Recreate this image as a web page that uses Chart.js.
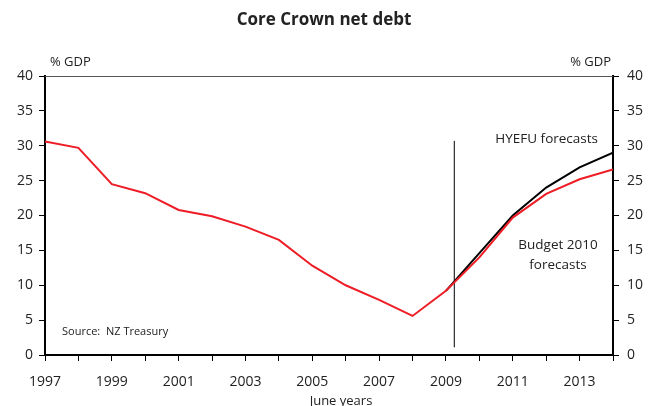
<!DOCTYPE html>
<html>
<head>
<meta charset="utf-8">
<script src="https://cdn.jsdelivr.net/npm/chart.js@4"></script>
<style>
html,body{margin:0;padding:0;background:#fff;}
#wrap{width:650px;height:406px;position:relative;}
</style>
</head>
<body>
<div id="wrap"><canvas id="c" width="650" height="406"></canvas></div>
<script>
const years = [1997,1998,1999,2000,2001,2002,2003,2004,2005,2006,2007,2008,2009,2010,2011,2012,2013,2014];
const budget2010 = [30.6,29.7,24.5,23.2,20.8,19.9,18.4,16.5,12.8,10.0,7.9,5.6,9.2,14.0,19.7,23.1,25.2,26.6];
const hyefuYears = [2009,2010,2011,2012,2013,2014];
const hyefu = [9.2,14.6,20.0,24.0,26.9,29.0];
const forecastMarkerX = [2009.25,2009.25];
const forecastMarkerY = [1.1,30.7];
const yTicks = [0,5,10,15,20,25,30,35,40];
const xLabelYears = [1997,1999,2001,2003,2005,2007,2009,2011,2013];

const FONT = "'Open Sans','Noto Sans',sans-serif";
const TXT = '#222';

const textPlugin = {
  id:'texts',
  afterDraw(chart){
    const ctx = chart.ctx, a = chart.chartArea;
    ctx.save();
    ctx.strokeStyle = '#555'; ctx.lineWidth = 1;
    ctx.beginPath(); ctx.moveTo(a.left, a.top+0.5); ctx.lineTo(a.right, a.top+0.5); ctx.stroke();
    ctx.fillStyle = TXT;
    ctx.font = "bold 17px " + FONT;
    ctx.textAlign = 'center'; ctx.textBaseline = 'middle';
    ctx.fillText('Core Crown net debt', 324, 20);
    ctx.font = "13px " + FONT;
    ctx.textAlign = 'left';
    ctx.fillText('% GDP', 50, 62);
    ctx.textAlign = 'right';
    ctx.fillText('% GDP', 611, 62);
    ctx.font = "13.5px " + FONT;
    ctx.textAlign = 'right';
    ctx.fillText('HYEFU forecasts', 598, 139);
    ctx.textAlign = 'center';
    ctx.fillText('Budget 2010', 558, 245);
    ctx.fillText('forecasts', 558, 265);
    ctx.font = "11px " + FONT;
    ctx.textAlign = 'left';
    ctx.fillText('Source:  NZ Treasury', 62, 332);
    ctx.font = "13px " + FONT;
    ctx.textAlign = 'center';
    ctx.fillText('June years', 341, 401);
    ctx.restore();
  }
};

new Chart(document.getElementById('c'), {
  type:'line',
  data:{
    datasets:[
      {label:'Forecast start', data: forecastMarkerX.map((x,i)=>({x, y:forecastMarkerY[i]})), borderColor:'#000', borderWidth:1, pointRadius:0, order:3},
      {label:'HYEFU', data: hyefuYears.map((x,i)=>({x, y:hyefu[i]})), borderColor:'#000', borderWidth:2, pointRadius:0, order:2},
      {label:'Budget 2010', data: years.map((x,i)=>({x, y:budget2010[i]})), borderColor:'#ee1c25', borderWidth:2, pointRadius:0, order:1}
    ]
  },
  options:{
    responsive:false, animation:false,
    layout:{padding:{top:76,left:0,right:0,bottom:0}},
    plugins:{legend:{display:false}, tooltip:{enabled:false}},
    elements:{line:{tension:0}},
    scales:{
      x:{type:'linear', min:1997, max:2014,
        afterFit(s){ s.height = 51; },
        afterBuildTicks(s){ s.ticks = years.map(v=>({value:v})); },
        ticks:{autoSkip:false, maxRotation:0, padding:13, color:TXT, font:{family:FONT,size:14},
          callback:(v)=> xLabelYears.includes(v) ? String(v) : ''},
        grid:{drawOnChartArea:false, tickLength:6, tickColor:'#000', tickWidth:1},
        border:{color:'#000', width:2}
      },
      y:{position:'left', min:0, max:40,
        afterFit(s){ s.width = 45; },
        afterBuildTicks(s){ s.ticks = yTicks.map(v=>({value:v})); },
        ticks:{padding:6, color:TXT, font:{family:FONT,size:14}},
        grid:{drawOnChartArea:false, tickLength:6, tickColor:'#000', tickWidth:1},
        border:{color:'#000', width:2}
      },
      y2:{position:'right', min:0, max:40,
        afterFit(s){ s.width = 37; },
        afterBuildTicks(s){ s.ticks = yTicks.map(v=>({value:v})); },
        ticks:{padding:8, color:TXT, font:{family:FONT,size:14}},
        grid:{drawOnChartArea:false, tickLength:6, tickColor:'#000', tickWidth:1},
        border:{color:'#000', width:2}
      }
    }
  },
  plugins:[textPlugin]
});
</script>
</body>
</html>
